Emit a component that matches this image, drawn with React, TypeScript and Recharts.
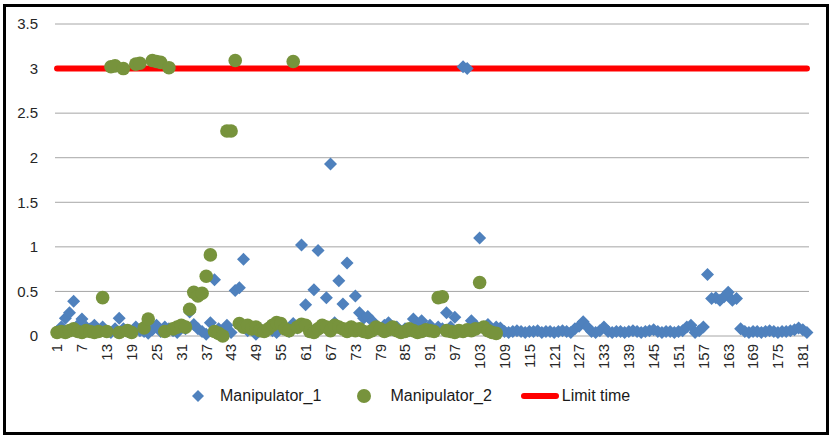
import React from 'react';
import { ComposedChart, Scatter, Line, XAxis, YAxis, CartesianGrid, Legend } from 'recharts';

const FONT = '"Liberation Sans", Arial, sans-serif';
const BLUE = '#4F81BD';
const GREEN = '#77933C';
const RED = '#FF0000';

// run index 1..182
const categories = Array.from({ length: 182 }, (_, i) => i + 1);

const manipulator1 = [
  0.05, 0.10, 0.20, 0.26, 0.39, 0.12, 0.19, 0.10, 0.08, 0.12,
  0.06, 0.10, 0.05, 0.04, 0.08, 0.20, 0.08, 0.05, 0.04, 0.10,
  0.06, 0.05, 0.03, 0.07, 0.12, 0.05, 0.10, 0.08, 0.06, 0.04,
  0.10, 0.08, 0.27, 0.13, 0.08, 0.05, 0.02, 0.15, 0.63, 0.08,
  0.05, 0.12, 0.04, 0.51, 0.54, 0.86, 0.06, 0.10, 0.02, 0.08,
  0.05, 0.10, 0.06, 0.04, 0.12, 0.08, 0.05, 0.14, 0.09, 1.02,
  0.35, 0.08, 0.52, 0.96, 0.10, 0.43, 1.93, 0.15, 0.62, 0.36,
  0.82, 0.10, 0.45, 0.26, 0.20, 0.22, 0.17, 0.10, 0.08, 0.12,
  0.15, 0.07, 0.10, 0.05, 0.08, 0.06, 0.19, 0.10, 0.17, 0.08,
  0.12, 0.06, 0.10, 0.08, 0.26, 0.10, 0.21, 0.06, 3.02, 3.00,
  0.17, 0.12, 1.10, 0.08, 0.13, 0.06, 0.10, 0.09, 0.05, 0.04,
  0.05, 0.06, 0.05, 0.04, 0.05, 0.05, 0.06, 0.04, 0.05, 0.05,
  0.04, 0.05, 0.06, 0.05, 0.04, 0.08, 0.11, 0.16, 0.10, 0.05,
  0.04, 0.06, 0.10, 0.05, 0.04, 0.05, 0.05, 0.04, 0.05, 0.06,
  0.05, 0.04, 0.05, 0.06, 0.07, 0.05, 0.04, 0.05, 0.05, 0.04,
  0.05, 0.06, 0.10, 0.12, 0.04, 0.06, 0.10, 0.69, 0.42, 0.43,
  0.40, 0.44, 0.49, 0.40, 0.42, 0.08, 0.05, 0.04, 0.05, 0.05,
  0.04, 0.05, 0.06, 0.05, 0.04, 0.05, 0.05, 0.06, 0.07, 0.09,
  0.07, 0.04,
];

const manipulator2 = [
  0.04, 0.05, 0.04, 0.06, 0.08, 0.05, 0.04, 0.06, 0.05, 0.04,
  0.05, 0.43, 0.05, 3.02, 3.03, 0.04, 3.00, 0.06, 0.04, 3.05,
  3.06, 0.09, 0.19, 3.09, 3.08, 3.07, 0.05, 3.01, 0.08, 0.10,
  0.12, 0.10, 0.30, 0.49, 0.45, 0.48, 0.67, 0.91, 0.05, 0.03,
  0.00, 2.30, 2.30, 3.09, 0.14, 0.10, 0.12, 0.08, 0.10, 0.06,
  0.05, 0.08, 0.12, 0.15, 0.14, 0.08, 0.06, 3.08, 0.10, 0.13,
  0.12, 0.05, 0.04, 0.08, 0.12, 0.10, 0.06, 0.12, 0.10, 0.08,
  0.05, 0.10, 0.06, 0.08, 0.05, 0.04, 0.06, 0.10, 0.08, 0.05,
  0.07, 0.10, 0.06, 0.04, 0.05, 0.08, 0.06, 0.04, 0.05, 0.07,
  0.06, 0.05, 0.43, 0.44, 0.06, 0.05, 0.04, 0.06, 0.05, 0.07,
  0.06, 0.08, 0.60, 0.10, 0.06, 0.04, 0.03,
];

const limitTime = 3;

const xTicks = [1, 7, 13, 19, 25, 31, 37, 43, 49, 55, 61, 67, 73, 79, 85, 91, 97, 103, 109, 115, 121, 127, 133, 139, 145, 151, 157, 163, 169, 175, 181];
const yTicks = [0, 0.5, 1, 1.5, 2, 2.5, 3, 3.5];

const m1Data = manipulator1.map((v, i) => ({ x: categories[i], y: v }));
const m2Data = manipulator2.map((v, i) => ({ x: categories[i], y: v }));
const limitData = categories.map((c) => ({ x: c, y: limitTime }));

const Diamond = (props: any) => {
  const { cx, cy } = props;
  const r = 6.5;
  return <polygon points={`${cx},${cy - r} ${cx + r},${cy} ${cx},${cy + r} ${cx - r},${cy}`} fill={BLUE} />;
};

const Dot = (props: any) => {
  const { cx, cy } = props;
  return <circle cx={cx} cy={cy} r={6.8} fill={GREEN} />;
};

const XTick = ({ x, y, payload }: any) => (
  <g transform={`translate(${x},${y})`}>
    <text transform="rotate(-90)" textAnchor="end" dy="0.36em" fontSize={15} fontFamily={FONT} fill="#262626">
      {payload.value}
    </text>
  </g>
);

const LegendContent = () => (
  <div style={{ display: 'flex', alignItems: 'center', height: 20, paddingLeft: 192, fontFamily: FONT, fontSize: 16, color: '#1a1a1a' }}>
    <svg width={12} height={12}><polygon points="6,0 12,6 6,12 0,6" fill={BLUE} /></svg>
    <span style={{ marginLeft: 16 }}>Manipulator_1</span>
    <svg width={14} height={14} style={{ marginLeft: 36 }}><circle cx={7} cy={7} r={7} fill={GREEN} /></svg>
    <span style={{ marginLeft: 19 }}>Manipulator_2</span>
    <svg width={38} height={6} style={{ marginLeft: 29 }}><line x1={3} y1={3} x2={35} y2={3} stroke={RED} strokeWidth={6} strokeLinecap="round" /></svg>
    <span style={{ marginLeft: 3 }}>Limit time</span>
  </div>
);

export default function App() {
  return (
    <div style={{ position: 'absolute', left: 0, top: 0, width: 835, height: 437, background: '#fff' }}>
      <div style={{ position: 'absolute', left: 3, top: 4, width: 826, height: 431, border: '3px solid #000', boxSizing: 'border-box' }} />
      <ComposedChart width={835} height={437} margin={{ top: 24, right: 26, left: 0, bottom: 31 }}>
        <CartesianGrid vertical={false} stroke="#a6a6a6" />
        <XAxis
          type="number"
          dataKey="x"
          domain={[0.5, 182.5]}
          ticks={xTicks}
          interval={0}
          axisLine={false}
          tickLine={false}
          tickSize={0}
          tickMargin={8}
          height={50}
          tick={<XTick />}
        />
        <YAxis
          type="number"
          dataKey="y"
          domain={[0, 3.5]}
          ticks={yTicks}
          width={55}
          axisLine={false}
          tickLine={false}
          tickSize={0}
          tickMargin={17}
          tick={{ fontSize: 15, fontFamily: FONT, fill: '#262626' }}
        />
        <Legend content={<LegendContent />} verticalAlign="bottom" />
        <Line data={limitData} dataKey="y" stroke={RED} strokeWidth={6} strokeLinecap="round" dot={false} activeDot={false} isAnimationActive={false} name="Limit time" />
        <Scatter data={m1Data} dataKey="y" shape={<Diamond />} isAnimationActive={false} name="Manipulator_1" />
        <Scatter data={m2Data} dataKey="y" shape={<Dot />} isAnimationActive={false} name="Manipulator_2" />
      </ComposedChart>
    </div>
  );
}
